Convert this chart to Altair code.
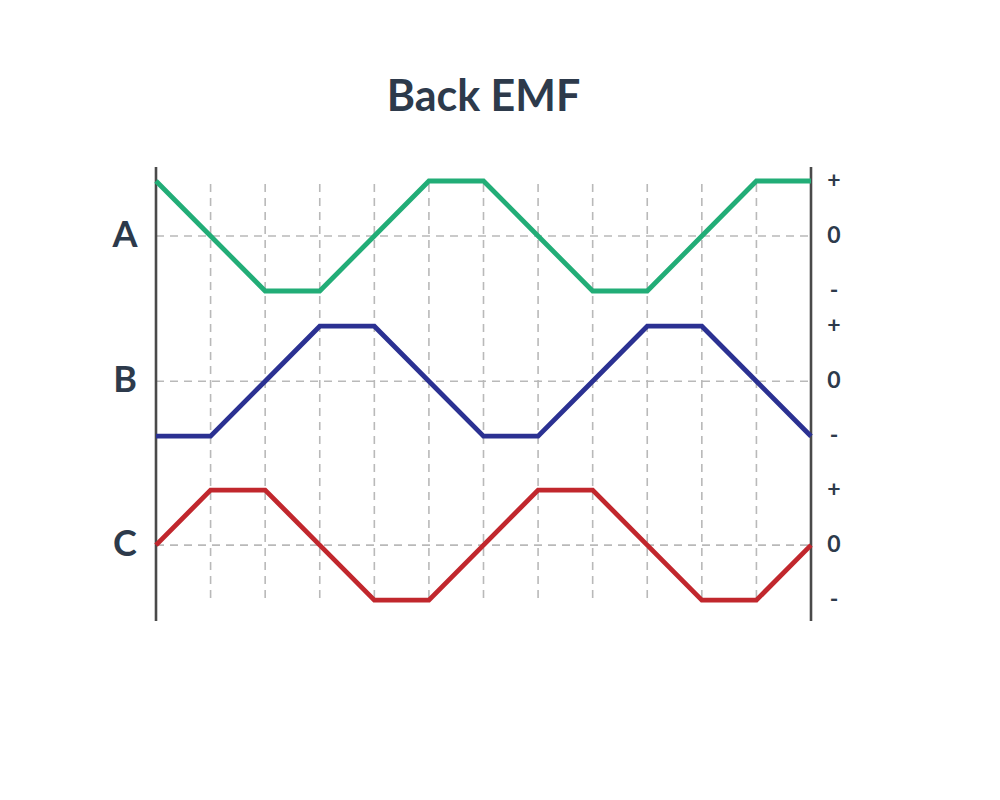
import altair as alt
import pandas as pd

# Electrical steps (60° each) across two electrical cycles
steps = list(range(13))

# Normalised trapezoidal back-EMF level per phase at each step
phase_a = [1, 0, -1, -1, 0, 1, 1, 0, -1, -1, 0, 1, 1]
phase_b = [-1, -1, 0, 1, 1, 0, -1, -1, 0, 1, 1, 0, -1]
phase_c = [0, 1, 1, 0, -1, -1, 0, 1, 1, 0, -1, -1, 0]

phases = ["A", "B", "C"]
colors = ["#22ad77", "#2b3192", "#c1272d"]
level_labels = ["+", "0", "-"]
level_values = [1, 0, -1]

# Vertical offset of each phase trace (in level units)
offsets = {"A": 0.0, "B": -2.64, "C": -5.62}

W, H = 655, 454
Y_DOMAIN = [-7.0, 1.2545]
GRID_TOP, GRID_BOTTOM = 0.945, -6.673
INK = "#2d3a4b"
FONT = "Lato"

rows = []
for name, series in zip(phases, [phase_a, phase_b, phase_c]):
    for s, v in zip(steps, series):
        rows.append({"phase": name, "step": s, "y": offsets[name] + v})
wave = pd.DataFrame(rows)

x_scale = alt.Scale(domain=[0, 12], nice=False, zero=False)
y_scale = alt.Scale(domain=Y_DOMAIN, nice=False, zero=False)
X = lambda f: alt.X(f, type="quantitative", scale=x_scale, axis=None)
Y = lambda f: alt.Y(f, type="quantitative", scale=y_scale, axis=None)

# dashed vertical grid at every step boundary
vgrid_df = pd.DataFrame({"step": steps[1:-1], "top": GRID_TOP, "bottom": GRID_BOTTOM})
vgrid = alt.Chart(vgrid_df).mark_rule(
    color="#b9b9b9", strokeWidth=1.6, strokeDash=[8, 6]
).encode(x=X("step"), y=Y("top"), y2="bottom")

# dashed zero line of each phase
hgrid_df = pd.DataFrame({"phase": phases, "y": [offsets[p] for p in phases],
                         "x0": 0, "x1": 12})
hgrid = alt.Chart(hgrid_df).mark_rule(
    color="#b9b9b9", strokeWidth=1.6, strokeDash=[8, 6]
).encode(x=X("x0"), x2="x1", y=Y("y"))

# solid left and right frame lines
frame_df = pd.DataFrame({"x": [0, 12]})
frame = alt.Chart(frame_df).mark_rule(color="#4a4a4a", strokeWidth=2.6).encode(
    x=X("x"), y=alt.value(0), y2=alt.value(H)
)

lines = alt.Chart(wave).mark_line(strokeWidth=4.8, strokeJoin="miter").encode(
    x=X("step"),
    y=Y("y"),
    color=alt.Color("phase:N", scale=alt.Scale(domain=phases, range=colors), legend=None),
)

# phase names on the left
names_df = pd.DataFrame({"phase": phases, "y": [offsets[p] for p in phases], "x": 0})
names = alt.Chart(names_df).mark_text(
    font=FONT, fontSize=36, fontWeight="bold", color=INK, align="center",
    baseline="middle", dx=-31
).encode(x=X("x"), y=Y("y"), text="phase:N")

# +, 0, - markers on the right
marks_rows = []
for p in phases:
    for lab, v in zip(level_labels, level_values):
        marks_rows.append({"label": lab, "y": offsets[p] + v, "x": 12})
marks_df = pd.DataFrame(marks_rows)
markers = alt.Chart(marks_df).mark_text(
    font=FONT, fontSize=23, fontWeight="bold", color=INK, align="center",
    baseline="middle", dx=23
).encode(x=X("x"), y=Y("y"), text="label:N")

chart = alt.layer(vgrid, hgrid, frame, lines, names, markers).properties(
    width=W,
    height=H,
    background="white",
    title=alt.TitleParams(
        "Back EMF", font=FONT, fontSize=43, fontWeight="bold", color=INK,
        anchor="middle", offset=46,
    ),
    autosize=alt.AutoSizeParams(type="none"),
    padding={"left": 156, "top": 167, "right": 189, "bottom": 179},
).configure_view(strokeWidth=0)

chart.save("out.html", embed_options={"renderer": "svg", "actions": False})
